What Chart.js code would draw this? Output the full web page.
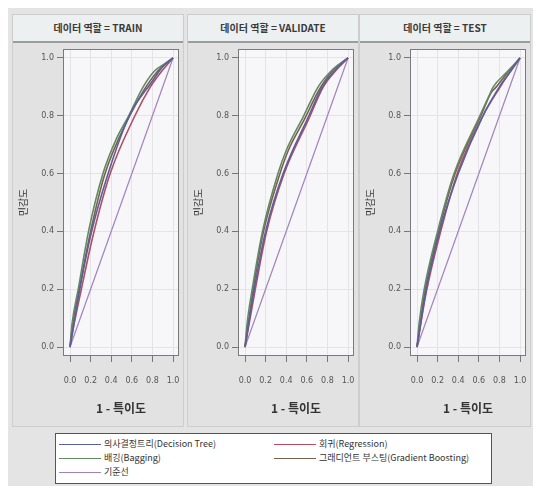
<!DOCTYPE html>
<html>
<head>
<meta charset="utf-8">
<script src="https://cdn.jsdelivr.net/npm/chart.js@4.4.1/dist/chart.umd.min.js"></script>
<style>
  body { margin: 0; background: #fff; font-family: "Noto Sans CJK KR", "Noto Sans", sans-serif; }
  #wrap { position: absolute; left: 8px; top: 8px; width: 525px; height: 478px; background: #e4e4e4; }
  .panel { position: absolute; top: 6px; width: 170px; height: 411px; background: #e2e2e2; border: 1px solid #cdcdcd; }
  .head { height: 26px; line-height: 26px; text-align: center; font-size: 10px; font-weight: bold; color: #3a3a3a; background: #edf0f0; border-bottom: 2px solid #9c9c9c; }
  #legend { position: absolute; left: 47px; top: 425px; width: 435px; height: 49px; background: #fff; border: 1px solid #555; font-size: 9px; color: #333; }
  .item { position: absolute; height: 12px; line-height: 12px; white-space: nowrap; }
  .item span.ln { display: inline-block; width: 42px; height: 0; border-top: 1.5px solid; vertical-align: middle; margin-right: 3px; }
</style>
</head>
<body>
<div id="wrap">
  <div class="panel" style="left:4px"><div class="head">데이터 역할 = TRAIN</div><canvas id="c0" width="170" height="383"></canvas></div>
  <div class="panel" style="left:179px"><div class="head">데이터 역할 = VALIDATE</div><canvas id="c1" width="170" height="383"></canvas></div>
  <div class="panel" style="left:351px"><div class="head">데이터 역할 = TEST</div><canvas id="c2" width="170" height="383"></canvas></div>
  <div id="legend"></div>
</div>
<script>
// ROC points [1 - specificity, sensitivity]
const roles = ['TRAIN', 'VALIDATE', 'TEST'];
const tickVals = [0, 0.2, 0.4, 0.6, 0.8, 1.0];

const trainTree = [[0,0],[0.1,0.21],[0.21,0.4],[0.37,0.6],[0.55,0.78],[0.62,0.83],[0.78,0.91],[0.9,0.97],[1,1]];
const trainReg = [[0,0],[0.04,0.08],[0.11,0.2],[0.22,0.38],[0.39,0.6],[0.63,0.8],[0.78,0.9],[0.88,0.95],[1,1]];
const trainBag = [[0,0],[0.02,0.08],[0.08,0.2],[0.18,0.4],[0.32,0.6],[0.45,0.72],[0.57,0.8],[0.71,0.9],[0.82,0.955],[0.92,0.98],[1,1]];
const trainGb = [[0,0],[0.03,0.09],[0.09,0.2],[0.2,0.4],[0.34,0.6],[0.58,0.8],[0.72,0.89],[0.84,0.95],[1,1]];

const validTree = [[0,0],[0.09,0.2],[0.2,0.4],[0.37,0.6],[0.62,0.8],[0.75,0.9],[0.88,0.96],[1,1]];
const validReg = [[0,0],[0.1,0.2],[0.21,0.4],[0.38,0.6],[0.62,0.79],[0.76,0.9],[0.89,0.96],[1,1]];
const validBag = [[0,0],[0.02,0.08],[0.07,0.2],[0.17,0.4],[0.32,0.6],[0.4,0.68],[0.57,0.8],[0.71,0.9],[0.85,0.96],[1,1]];
const validGb = [[0,0],[0.08,0.2],[0.18,0.4],[0.33,0.59],[0.42,0.68],[0.58,0.79],[0.72,0.89],[0.86,0.96],[1,1]];

const testTree = [[0,0],[0.09,0.2],[0.22,0.4],[0.4,0.6],[0.64,0.8],[0.8,0.9],[0.9,0.95],[1,1]];
const testReg = [[0,0],[0.09,0.19],[0.23,0.4],[0.4,0.61],[0.64,0.8],[0.79,0.89],[0.9,0.95],[1,1]];
const testBag = [[0,0],[0.02,0.08],[0.07,0.2],[0.2,0.4],[0.36,0.6],[0.61,0.8],[0.7,0.87],[0.74,0.9],[0.87,0.95],[1,1]];
const testGb = [[0,0],[0.08,0.2],[0.21,0.4],[0.37,0.6],[0.62,0.8],[0.72,0.88],[0.77,0.9],[0.88,0.95],[1,1]];

const baseline = [[0,0],[1,1]];

const seriesNames = ['의사결정트리(Decision Tree)', '회귀(Regression)', '배깅(Bagging)', '그래디언트 부스팅(Gradient Boosting)', '기준선'];
const seriesColors = ['#56609c', '#b44c64', '#628a62', '#7c604c', '#a382bd'];
const panelData = [
  [trainTree, trainReg, trainBag, trainGb, baseline],
  [validTree, validReg, validBag, validGb, baseline],
  [testTree, testReg, testBag, testGb, baseline],
];

const framePlugin = {
  id: 'frame',
  beforeDraw(chart) {
    const a = chart.chartArea, ctx = chart.ctx;
    ctx.save();
    ctx.fillStyle = '#f7f7f9';
    ctx.fillRect(a.left, a.top, a.right - a.left, a.bottom - a.top);
    ctx.restore();
  },
  afterDraw(chart) {
    const a = chart.chartArea, ctx = chart.ctx;
    ctx.save();
    ctx.strokeStyle = '#7a7a7a';
    ctx.lineWidth = 1;
    ctx.strokeRect(a.left + 0.5, a.top + 0.5, a.right - a.left - 1, a.bottom - a.top - 1);
    ctx.restore();
  }
};

const tickFont = { family: 'DejaVu Sans', size: 8 };

panelData.forEach((sets, i) => {
  new Chart(document.getElementById('c' + i), {
    type: 'line',
    data: {
      datasets: sets.map((pts, k) => ({
        label: seriesNames[k],
        data: pts.map(p => ({ x: p[0], y: p[1] })),
        borderColor: seriesColors[k],
        borderWidth: k === 4 ? 1.2 : 1.6,
        pointRadius: 0,
        cubicInterpolationMode: k === 4 ? 'default' : 'monotone',
        fill: false,
      })),
    },
    options: {
      responsive: false,
      animation: false,
      layout: { padding: { top: 6, right: 4, left: 0, bottom: 0 } },
      plugins: { legend: { display: false }, tooltip: { enabled: false } },
      scales: {
        x: {
          type: 'linear',
          min: -0.068, max: 1.058,
          afterBuildTicks: s => { s.ticks = tickVals.map(v => ({ value: v })); },
          // fixed axis height, and no extra side room for the end labels
          afterFit: s => { s.height = 70; s.paddingLeft = 0; s.paddingRight = 0; },
          ticks: { callback: v => v.toFixed(1), font: tickFont, color: '#555', padding: 14, maxRotation: 0, autoSkip: false },
          grid: { color: '#e4e4e6', tickColor: '#777', tickLength: 6 },
          border: { display: false },
          title: { display: true, text: '1 - 특이도', font: { family: 'Noto Sans CJK KR', size: 12, weight: 'bold' }, color: '#333', padding: { top: 0, bottom: 10 } },
        },
        y: {
          type: 'linear',
          min: -0.031, max: 1.031,
          afterBuildTicks: s => { s.ticks = tickVals.map(v => ({ value: v })); },
          afterFit: s => { s.width = 50; s.paddingTop = 0; s.paddingBottom = 0; },
          ticks: { callback: v => v.toFixed(1), font: tickFont, color: '#555', padding: 3 },
          grid: { color: '#e4e4e6', tickColor: '#777', tickLength: 6 },
          border: { display: false },
          title: { display: true, text: '민감도', font: { family: 'Noto Sans CJK KR', size: 10 }, color: '#333', padding: { top: 4, bottom: 0 } },
        },
      },
    },
    plugins: [framePlugin],
  });
});

// legend box below the panels
const legendPos = [[3, 4], [218, 4], [3, 18], [218, 18], [3, 32]];
const legend = document.getElementById('legend');
seriesNames.forEach((name, k) => {
  const d = document.createElement('div');
  d.className = 'item';
  d.style.left = legendPos[k][0] + 'px';
  d.style.top = legendPos[k][1] + 'px';
  d.innerHTML = '<span class="ln" style="border-color:' + seriesColors[k] + '"></span>' + name;
  legend.appendChild(d);
});
</script>
</body>
</html>
